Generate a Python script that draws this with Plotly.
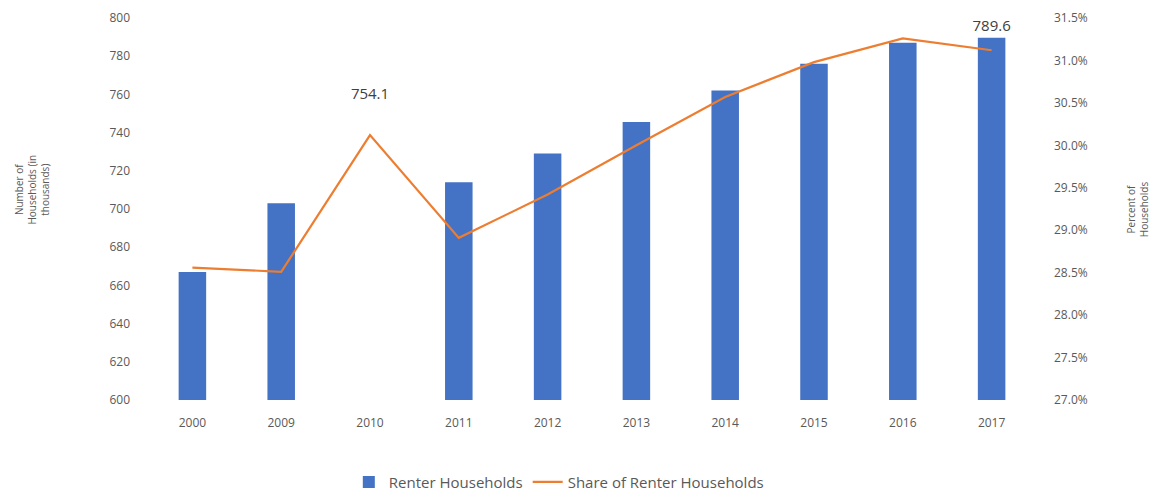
import plotly.graph_objects as go

years = ["2000", "2009", "2010", "2011", "2012", "2013", "2014", "2015", "2016", "2017"]
renter_households = [667, 703, 754.1, 714, 729, 745.5, 762, 776, 787, 789.6]
share_pct = [28.56, 28.51, 30.12, 28.91, 29.42, 30.0, 30.57, 30.98, 31.26, 31.12]
bar_labels = ["", "", "754.1", "", "", "", "", "", "", "789.6"]
bar_colors = ["#4472C4", "#4472C4", "rgba(0,0,0,0)", "#4472C4", "#4472C4",
              "#4472C4", "#4472C4", "#4472C4", "#4472C4", "#4472C4"]
left_ticks = list(range(600, 801, 20))
right_ticks = [27.0 + 0.5 * i for i in range(10)]

FONT = "Open Sans, Liberation Sans, Arial"
GRAY = "#595959"

fig = go.Figure()
fig.add_trace(go.Bar(
    x=years, y=renter_households, name="Renter Households",
    legendgroup="a",
    marker=dict(color=bar_colors, line=dict(width=0)),
    width=0.31,
    text=bar_labels, textposition="outside", cliponaxis=False,
    constraintext="none",
    textfont=dict(size=15, color="#404040", family=FONT),
    yaxis="y",
))
fig.add_trace(go.Scatter(
    x=years, y=share_pct, name="Share of Renter Households",
    legendgroup="b",
    mode="lines", line=dict(color="#ED7D31", width=2.2),
    yaxis="y2",
))

fig.update_layout(
    width=1155, height=493,
    margin=dict(l=148, r=119, t=18, b=93, autoexpand=False),
    paper_bgcolor="white", plot_bgcolor="white",
    font=dict(family=FONT, color=GRAY, size=12),
    showlegend=True,
    legend=dict(orientation="h", x=0.302, xref="container", xanchor="left",
                y=0.022, yref="container", yanchor="middle",
                font=dict(size=15, color=GRAY), traceorder="normal",
                itemwidth=30, tracegroupgap=25),
    xaxis=dict(showgrid=False, showline=False, zeroline=False,
               ticks="", ticklabelstandoff=14,
               tickfont=dict(size=12, color=GRAY)),
    yaxis=dict(range=[600, 800], tickvals=left_ticks, showgrid=False,
               zeroline=False, showline=False, ticks="",
               ticklabelstandoff=17, tickfont=dict(size=12, color=GRAY)),
    yaxis2=dict(range=[27.0, 31.5], tickvals=right_ticks,
                ticktext=[f"{v:.1f}%" for v in right_ticks],
                overlaying="y", side="right", showgrid=False,
                zeroline=False, showline=False, ticks="",
                ticklabelstandoff=17, tickfont=dict(size=12, color=GRAY)),
    annotations=[
        dict(text="Number of<br>Households (in<br>thousands)", xref="paper", yref="paper",
             x=-0.131, y=0.55, xanchor="center", yanchor="middle", textangle=-90,
             showarrow=False, font=dict(size=10, color=GRAY)),
        dict(text="Percent of<br>Households", xref="paper", yref="paper",
             x=1.114, y=0.5, xanchor="center", yanchor="middle", textangle=-90,
             showarrow=False, font=dict(size=10, color=GRAY)),
    ],
)

fig.write_html("out.html")
